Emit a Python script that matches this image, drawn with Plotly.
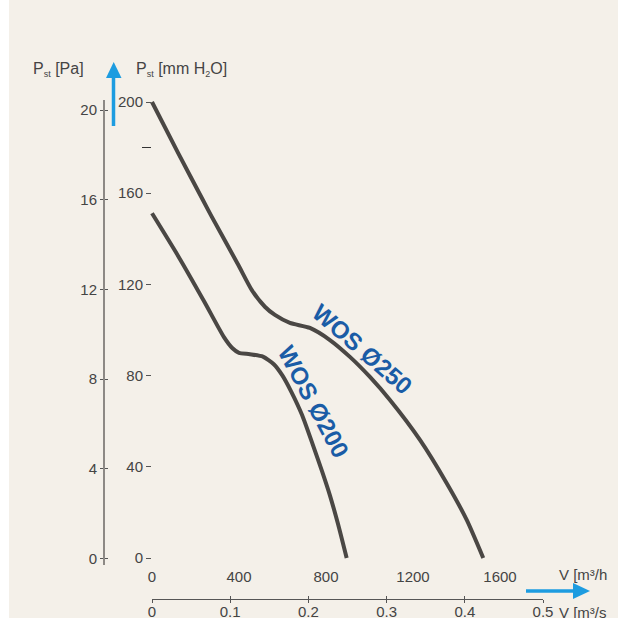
import plotly.graph_objects as go

# ---------------- data ----------------
flow_250 = [0, 121, 234, 274.5, 397, 459, 519, 565, 634, 726, 818, 910, 1002, 1094, 1232, 1355, 1447, 1523]
pst_250 = [200, 177.5, 157, 149.7, 128.5, 117.5, 110.2, 106.6, 103.1, 100.9, 95.6, 88.2, 79.4, 69.3, 51.8, 32.8, 16.7, 0]

flow_200 = [0, 120, 240, 330, 370, 400, 450, 510, 560, 600, 640, 690, 740, 782, 818, 855, 895]
pst_200 = [151.2, 132.5, 112.5, 97, 92, 90, 89.4, 88.3, 85, 80, 73, 62.7, 49.5, 38, 27.5, 15, 0]

mm_ticks = [0, 40, 80, 120, 160, 200]
mm_minor = [180]
pa_ticks = [0, 4, 8, 12, 16, 20]
m3h_ticks = [0, 400, 800, 1200, 1600]
m3s_ticks = [0, 0.1, 0.2, 0.3, 0.4, 0.5]
m3s_text = ["0", "0.1", "0.2", "0.3", "0.4", "0.5"]

label_250 = "WOS Ø250"
label_200 = "WOS Ø200"

# ---------------- layout geometry ----------------
W, H = 618, 618
ML, MR, MT, MB = 9, 0, 0, 1
PW, PH = W - ML - MR, H - MT - MB

def px2paper_x(px):
    return (px - ML) / PW

def py2paper_y(py):
    return (H - MB - py) / PH

# pixel anchors: flow 0 at x=152, 400 m3/h per 87 px ; 0 mm at y=558, 2.28 px per mm
X0, XS = 152, 87 / 400
Y0, YS = 558, 2.28
xr = [(ML - X0) / XS, (W - MR - X0) / XS]
yr = [(Y0 - (H - MB)) / YS, (Y0 - MT) / YS]

# Pa axis: 0 Pa at y=558.5, 22.42 px per Pa, line from y=100 to 565
PA0, PAS = 558.5, 22.42
pa_dom = [py2paper_y(565), py2paper_y(100)]
pa_rng = [(PA0 - 565) / PAS, (PA0 - 100) / PAS]

BG = "#f4f0e9"
TXT = "#444444"
TICK = "#555555"
CURVE = "#4a4744"
BLUE_TXT = "#1a5ca6"
ARROW = "#1d9ce0"
FONT = "Liberation Sans, Arial, sans-serif"

fig = go.Figure()
fig.add_trace(go.Scatter(x=flow_250, y=pst_250, mode="lines",
                         line=dict(color=CURVE, width=4, shape="spline", smoothing=0.6),
                         hoverinfo="skip", showlegend=False))
fig.add_trace(go.Scatter(x=flow_200, y=pst_200, mode="lines",
                         line=dict(color=CURVE, width=4, shape="spline", smoothing=0.6),
                         hoverinfo="skip", showlegend=False))
# empty traces so that the secondary axes are drawn
fig.add_trace(go.Scatter(x=[], y=[], xaxis="x2", yaxis="y2", hoverinfo="skip", showlegend=False))
fig.add_trace(go.Scatter(x=[], y=[], xaxis="x3", yaxis="y3", hoverinfo="skip", showlegend=False))

base = dict(showgrid=False, zeroline=False, automargin=False, fixedrange=True)
pa_common = dict(range=pa_rng, domain=pa_dom, anchor="free", position=px2paper_x(104),
                 tickvals=pa_ticks, tickwidth=1, tickcolor=TICK, **base)
m3s_common = dict(range=[0, 0.5], domain=[px2paper_x(152), px2paper_x(543)], anchor="free",
                  position=py2paper_y(598.5), tickvals=m3s_ticks, tickwidth=1, tickcolor=TICK, **base)

fig.update_layout(
    template="none",
    width=W, height=H, autosize=False,
    margin=dict(l=ML, r=MR, t=MT, b=MB, pad=0),
    paper_bgcolor=BG, plot_bgcolor="rgba(0,0,0,0)",
    font=dict(family=FONT, size=15, color=TXT),
    showlegend=False,
    xaxis=dict(range=xr, domain=[0, 1], anchor="free", position=py2paper_y(566),
               showline=False, ticks="",
               tickvals=m3h_ticks, tickfont=dict(size=15, color=TXT), **base),
    yaxis=dict(range=yr, domain=[0, 1], anchor="free", position=px2paper_x(151),
               showline=False, ticks="outside", ticklen=5, tickwidth=1, tickcolor=TICK,
               tickvals=mm_ticks, tickfont=dict(size=15, color=TXT),
               minor=dict(tickvals=mm_minor, ticks="outside", ticklen=9, tickwidth=1.2, tickcolor="#333333"),
               **base),
    yaxis2=dict(**pa_common, showline=True, linecolor="#8d8985", linewidth=2,
                ticks="outside", ticklen=3, tickfont=dict(size=15, color=TXT)),
    yaxis3=dict(**pa_common, showline=False, ticks="inside", ticklen=3, showticklabels=False),
    xaxis2=dict(**m3s_common, showline=True, linecolor=TICK, linewidth=1,
                ticks="outside", ticklen=3, ticktext=m3s_text, ticklabelstandoff=-4,
                tickfont=dict(size=15, color=TXT)),
    xaxis3=dict(**m3s_common, showline=False, ticks="inside", ticklen=3, showticklabels=False),
)

SUB = '<sub><span style="font-size:9px">%s</span></sub>'
ann = []
ann.append(dict(text="P" + SUB % "st" + " [Pa]", x=px2paper_x(31), y=py2paper_y(69), xref="paper", yref="paper",
                xanchor="left", yanchor="middle", showarrow=False, font=dict(size=16, color=TXT)))
ann.append(dict(text="P" + SUB % "st" + " [mm H" + SUB % "2" + "O]", x=px2paper_x(134), y=py2paper_y(69),
                xref="paper", yref="paper",
                xanchor="left", yanchor="middle", showarrow=False, font=dict(size=16, color=TXT)))
ann.append(dict(text="V [m³/h", x=px2paper_x(557), y=py2paper_y(574), xref="paper", yref="paper",
                xanchor="left", yanchor="middle", showarrow=False, font=dict(size=15, color=TXT)))
ann.append(dict(text="V [m³/s", x=px2paper_x(557), y=py2paper_y(612), xref="paper", yref="paper",
                xanchor="left", yanchor="middle", showarrow=False, font=dict(size=15, color=TXT)))
ann.append(dict(text="<b>%s</b>" % label_250, x=970, y=91.5, xref="x", yref="y",
                textangle=41, showarrow=False, font=dict(size=24, color=BLUE_TXT)))
ann.append(dict(text="<b>%s</b>" % label_200, x=742, y=68.5, xref="x", yref="y",
                textangle=62, showarrow=False, font=dict(size=24, color=BLUE_TXT)))
fig.update_layout(annotations=ann)

# decorations: white left strip and blue arrows
shapes = []
shapes.append(dict(type="rect", xref="paper", yref="paper", layer="above",
                   x0=px2paper_x(-2), x1=px2paper_x(9), y0=py2paper_y(620), y1=py2paper_y(-2),
                   fillcolor="white", line=dict(width=0)))
shapes.append(dict(type="line", xref="paper", yref="paper",
                   x0=px2paper_x(113.5), x1=px2paper_x(113.5), y0=py2paper_y(126), y1=py2paper_y(77),
                   line=dict(color=ARROW, width=3.5)))
shapes.append(dict(type="path", xref="paper", yref="paper",
                   path="M %f %f L %f %f L %f %f Z" % (px2paper_x(106), py2paper_y(78),
                                                       px2paper_x(121.5), py2paper_y(78),
                                                       px2paper_x(113.7), py2paper_y(62)),
                   fillcolor=ARROW, line=dict(width=0)))
shapes.append(dict(type="line", xref="paper", yref="paper",
                   x0=px2paper_x(526), x1=px2paper_x(575), y0=py2paper_y(591), y1=py2paper_y(591),
                   line=dict(color=ARROW, width=3.5)))
shapes.append(dict(type="path", xref="paper", yref="paper",
                   path="M %f %f L %f %f L %f %f Z" % (px2paper_x(573), py2paper_y(583),
                                                       px2paper_x(573), py2paper_y(599),
                                                       px2paper_x(590), py2paper_y(591)),
                   fillcolor=ARROW, line=dict(width=0)))
fig.update_layout(shapes=shapes)

fig.write_html("out.html", config={"displayModeBar": False, "responsive": False},
               post_script="document.body.style.margin='0';document.body.style.overflow='hidden';")
